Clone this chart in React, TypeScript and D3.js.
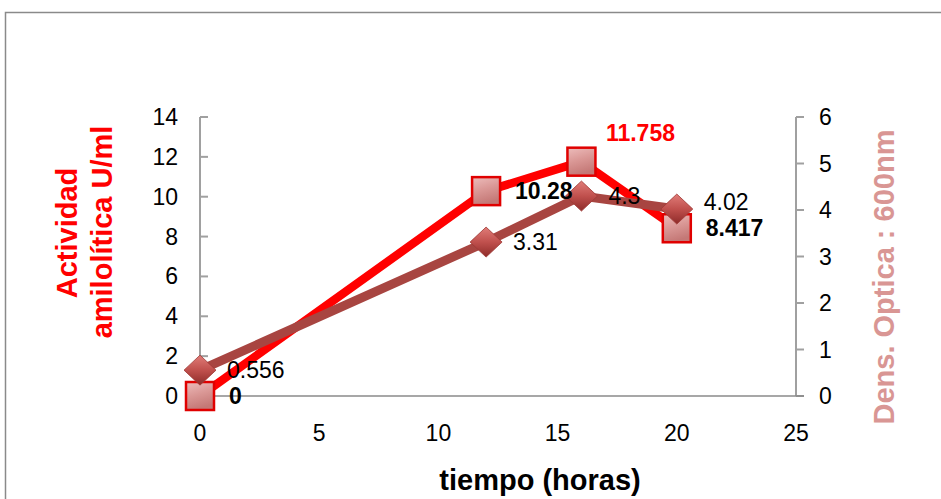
import React from "react";
import * as d3 from "d3";

// Fermentation time course: amylolytic activity (left axis) and optical density (right axis)
const hours = [0, 12, 16, 20];
const actividad = [0, 10.28, 11.758, 8.417];
const densidad = [0.556, 3.31, 4.3, 4.02];
const xTicks = [0, 5, 10, 15, 20, 25];
const yLeftTicks = [0, 2, 4, 6, 8, 10, 12, 14];
const yRightTicks = [0, 1, 2, 3, 4, 5, 6];

const W = 941;
const H = 499;
const FONT = "'Liberation Sans', Arial, sans-serif";

export default function App() {
  const x = d3.scaleLinear().domain([0, 25]).range([200, 796]);
  const yL = d3.scaleLinear().domain([0, 14]).range([396, 117]);
  const yR = d3.scaleLinear().domain([0, 6]).range([396, 117]);

  const actPts: [number, number][] = hours.map((h, i) => [x(h), yL(actividad[i])]);
  const odPts: [number, number][] = hours.map((h, i) => [x(h), yR(densidad[i])]);
  const line = d3.line();
  const maxAct = d3.max(actividad) as number;

  const sq = 14;
  const dw = 16;
  const dh = 15;

  // label anchors for the activity series
  const actLabels = actPts.map(([px, py], i) => {
    const isMax = actividad[i] === maxAct;
    return {
      x: isMax ? px + 59 : px + 29,
      y: isMax ? py - 21 : py + 8,
      isMax,
    };
  });
  // density labels sit right of the marker, nudged up when they would collide
  const odLabels = odPts.map(([px, py], i) => {
    let ly = py + 8;
    const a = actLabels[i];
    if (!a.isMax && Math.abs(a.y - ly) < 26 && ly < a.y) ly = a.y - 26;
    return { x: px + 27, y: ly };
  });

  return (
    <svg
      width={W}
      height={H}
      style={{ position: "fixed", left: 0, top: 0, background: "#fff" }}
      fontFamily={FONT}
    >
      <defs>
        <linearGradient id="sqFill" x1="0" y1="0" x2="0.3" y2="1">
          <stop offset="0" stopColor="#EDBDBC" />
          <stop offset="0.5" stopColor="#DA9896" />
          <stop offset="1" stopColor="#C47876" />
        </linearGradient>
        <linearGradient id="dmFill" x1="0" y1="0" x2="0" y2="1">
          <stop offset="0" stopColor="#E07C78" />
          <stop offset="0.5" stopColor="#C0504D" />
          <stop offset="1" stopColor="#8E2B29" />
        </linearGradient>
      </defs>

      {/* chart frame */}
      <rect x={5.5} y={12.5} width={1000} height={600} fill="none" stroke="#8a8a8a" strokeWidth={1.5} />

      {/* axes */}
      <g stroke="#a0a0a0" strokeWidth={2}>
        <line x1={x(0)} x2={x(0)} y1={yL(14)} y2={yL(0)} />
        {yLeftTicks.map((t) => (
          <line key={"lt" + t} x1={x(0)} x2={x(0) + 8} y1={yL(t)} y2={yL(t)} />
        ))}
        <line x1={x(25)} x2={x(25)} y1={yR(6)} y2={yR(0)} />
        {yRightTicks.map((t) => (
          <line key={"rt" + t} x1={x(25)} x2={x(25) + 8} y1={yR(t)} y2={yR(t)} />
        ))}
      </g>
      <line x1={x(0)} x2={x(25) + 8} y1={yL(0)} y2={yL(0)} stroke="#8a8a8a" strokeWidth={1.5} />

      {/* tick labels */}
      <g fontSize={23} fill="#000">
        {yLeftTicks.map((t) => (
          <text key={"ll" + t} x={178} y={yL(t) + 8} textAnchor="end">
            {t}
          </text>
        ))}
        {yRightTicks.map((t) => (
          <text key={"rl" + t} x={819} y={yR(t) + 8} textAnchor="start">
            {t}
          </text>
        ))}
        {xTicks.map((t) => (
          <text key={"xl" + t} x={x(t)} y={441} textAnchor="middle">
            {t}
          </text>
        ))}
      </g>

      {/* axis titles */}
      <g fontWeight="bold" fontSize={29} fill="#FF0000" textAnchor="middle">
        <text transform="translate(77,233) rotate(-90)">Actividad</text>
        <text transform="translate(112,232) rotate(-90)">amilolítica U/ml</text>
      </g>
      <text
        transform="translate(894,277) rotate(-90)"
        fontWeight="bold"
        fontSize={29}
        fill="#D99694"
        textAnchor="middle"
      >
        Dens. Optica : 600nm
      </text>
      <text x={540} y={490} fontWeight="bold" fontSize={29} fill="#000" textAnchor="middle">
        tiempo (horas)
      </text>

      {/* activity series */}
      <path d={line(actPts) || ""} fill="none" stroke="#FF0000" strokeWidth={8.5} strokeLinejoin="round" />
      {actPts.map(([px, py], i) => (
        <rect
          key={"sq" + i}
          x={px - sq}
          y={py - sq}
          width={sq * 2}
          height={sq * 2}
          fill="url(#sqFill)"
          stroke="#E00000"
          strokeWidth={2.5}
        />
      ))}

      {/* optical density series */}
      <path d={line(odPts) || ""} fill="none" stroke="#A84541" strokeWidth={9} strokeLinejoin="round" />
      {odPts.map(([px, py], i) => (
        <path
          key={"dm" + i}
          d={`M${px},${py - dh} L${px + dw},${py} L${px},${py + dh} L${px - dw},${py} Z`}
          fill="url(#dmFill)"
          stroke="#9E3835"
          strokeWidth={0.8}
        />
      ))}

      {/* data labels */}
      <g fontSize={23}>
        {actLabels.map((l, i) => (
          <text
            key={"al" + i}
            x={l.x}
            y={l.y}
            textAnchor={l.isMax ? "middle" : "start"}
            fontWeight="bold"
            fill={l.isMax ? "#FF0000" : "#000"}
          >
            {actividad[i]}
          </text>
        ))}
        {odLabels.map((l, i) => (
          <text key={"ol" + i} x={l.x} y={l.y} fill="#000">
            {densidad[i]}
          </text>
        ))}
      </g>
    </svg>
  );
}
